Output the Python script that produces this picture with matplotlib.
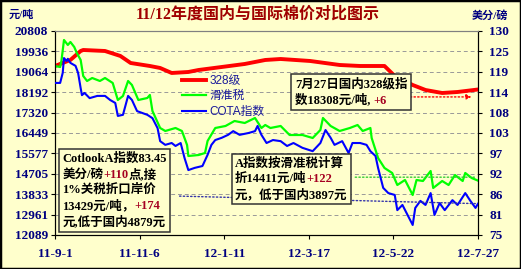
import matplotlib
matplotlib.use("Agg")
import matplotlib.pyplot as plt
import numpy as np
import pandas as pd
from matplotlib.patches import Rectangle
from matplotlib.offsetbox import TextArea, HPacker, VPacker, AnnotationBbox

# days counted from 2011-09-01
start = pd.Timestamp("2011-09-01")

red_days = [0, 12, 20, 22, 39, 51, 59, 74, 82, 91, 104, 112, 130, 148, 164, 176, 199,
            222, 238, 257, 265, 279, 289, 302, 314, 330]
red_vals = [19312, 19569, 19953, 19996, 19953, 19740, 19440, 19312, 19227, 19013, 19056,
            19141, 19269, 19398, 19569, 19611, 19526, 19355, 19312, 19312, 18885, 18500,
            18286, 18158, 18201, 18308]

green_days = [0, 4, 5, 7, 10, 12, 15, 17, 20, 22, 25, 29, 35, 39, 45, 49, 53, 57, 60, 65,
              72, 74, 76, 82, 86, 94, 99, 103, 104, 112, 117, 119, 125, 133, 140, 148, 156,
              161, 164, 168, 176, 183, 193, 201, 207, 209, 215, 222, 230, 236, 240, 246, 247,
              252, 257, 263, 267, 273, 279, 282, 287, 293, 295, 302, 307, 312, 318, 320, 325, 330]
green_vals = [19312, 19269, 19526, 20423, 20210, 20338, 20124, 19868, 19569, 18885, 18671,
              18799, 18671, 18799, 18586, 17859, 18030, 18671, 18500, 17859, 17944, 18073,
              17389, 16662, 16534, 16662, 16534, 15936, 15465, 15508, 15594, 16107, 16662,
              16748, 16961, 16876, 17090, 16662, 16790, 16662, 16748, 16363, 16363, 16235,
              16577, 17090, 16748, 16534, 16662, 16790, 16534, 16662, 16235, 15380, 14953,
              14739, 14226, 14440, 13799, 14440, 14397, 14824, 14098, 14397, 14226, 14653,
              14397, 14739, 14525, 14411]

blue_days = [0, 4, 6, 7, 9, 10, 12, 16, 18, 20, 21, 23, 27, 33, 39, 43, 47, 49, 53, 57,
             60, 64, 68, 72, 76, 80, 82, 86, 91, 94, 98, 101, 104, 109, 115, 119, 122, 125,
             130, 135, 139, 144, 151, 156, 158, 161, 165, 170, 176, 181, 186, 193, 201, 207,
             211, 215, 218, 224, 229, 232, 238, 243, 246, 250, 252, 256, 260, 265, 267, 271,
             275, 279, 281, 285, 289, 293, 296, 300, 304, 310, 314, 320, 324, 328, 330]
blue_vals = [116.0, 116.0, 118.7, 122.7, 121.9, 122.5, 121.4, 120.6, 118.7, 114.6, 112.7,
             113.3, 111.9, 112.5, 112.5, 111.4, 110.6, 107.1, 107.4, 112.5, 111.4, 108.4,
             107.9, 107.4, 106.5, 103.8, 100.3, 99.3, 99.8, 99.0, 99.8, 95.8, 92.5, 93.1,
             93.6, 96.6, 99.3, 100.6, 101.2, 102.0, 103.0, 102.0, 102.5, 103.0, 104.4, 102.0,
             99.8, 100.6, 100.3, 99.0, 99.8, 98.5, 97.6, 99.8, 103.3, 101.2, 99.3, 100.3,
             97.1, 99.8, 99.8, 99.3, 97.6, 96.3, 93.1, 87.7, 86.3, 85.8, 81.7, 83.1, 80.4,
             77.7, 82.3, 84.2, 83.1, 86.3, 80.4, 83.6, 81.7, 84.4, 83.1, 86.3, 84.2, 82.3, 83.45]

series_names = ["328级", "滑准税", "COTA指数"]
tick_dates = ["2011-09-01", "2011-11-06", "2012-01-11", "2012-03-17", "2012-05-22", "2012-07-27"]
tick_labels = ["11-9-1", "11-11-6", "12-1-11", "12-3-17", "12-5-22", "12-7-27"]
left_labels = [12089, 12961, 13833, 14705, 15577, 16449, 17320, 18192, 19064, 19936, 20808]
right_labels = [75, 81, 86, 92, 97, 103, 108, 114, 119, 125, 130]

title = "11/12年度国内与国际棉价对比图示"
box1_lines = [[("CotlookA指数83.45", "k")],
              [("美分/磅", "k"), ("+110", "dr"), ("点,接", "k")],
              [("1%关税折口岸价", "k")],
              [("13429元/吨，", "k"), ("+174", "dr")],
              [("元,低于国内4879元", "k")]]
box2_lines = [[("A指数按滑准税计算", "k")],
              [("折14411元/吨", "k"), ("+122", "dr")],
              [("元，低于国内3897元", "k")]]
box3_lines = [[("7月27日国内328级指", "k")],
              [("数18308元/吨, ", "k"), ("+6", "dr")]]

bg = "#FFFFCC"
navy = "#000080"
darkred = "#A50021"
serif = ["Liberation Serif", "Noto Sans CJK SC"]


def to_dates(days):
    return start + pd.to_timedelta(days, unit="D")


fig = plt.figure(figsize=(5.21, 2.69), dpi=100, facecolor=bg)
ax = fig.add_axes([0.1056, 0.1264, 0.812, 0.7584])
ax.set_facecolor(bg)
ax2 = ax.twinx()

l1, = ax.plot(to_dates(red_days), red_vals, color="#FF0000", lw=2.8, zorder=3)
l2, = ax.plot(to_dates(green_days), green_vals, color="#00FF00", lw=1.6, zorder=3)
l3, = ax2.plot(to_dates(blue_days), blue_vals, color="#0000FF", lw=1.5, zorder=3)

ax.set_xlim(pd.Timestamp(tick_dates[0]), pd.Timestamp(tick_dates[-1]))
ax.set_ylim(left_labels[0], left_labels[-1])
ax2.set_ylim(right_labels[0], right_labels[-1])

ax.set_yticks(np.linspace(left_labels[0], left_labels[-1], 11))
ax.set_yticklabels([str(v) for v in left_labels])
ax2.set_yticks(np.linspace(right_labels[0], right_labels[-1], 11))
ax2.set_yticklabels([str(v) for v in right_labels])
ax.set_xticks(pd.to_datetime(tick_dates))
ax.set_xticklabels(tick_labels)

ax.grid(axis="y", color="#999999", ls=(0, (4, 3)), lw=0.7)
tick_font = dict(family="Liberation Serif", weight="bold", size=9.5)
for lab in ax.get_yticklabels() + ax.get_xticklabels() + ax2.get_yticklabels():
    lab.set_fontproperties(matplotlib.font_manager.FontProperties(**tick_font))
    lab.set_color(navy)
ax.tick_params(axis="y", length=3, pad=2, width=0.8)
ax.tick_params(axis="x", length=3, pad=6.5, width=0.8)
ax2.tick_params(axis="y", length=3, pad=5, width=0.8)
for a in (ax, ax2):
    a.spines["top"].set_color("#808080")
    for s in ("left", "right", "bottom"):
        a.spines[s].set_color("black")
        a.spines[s].set_linewidth(0.8)

# dotted leader lines
ax.annotate("", xy=(to_dates([327])[0], 17990), xytext=(to_dates([275])[0], 17990),
            arrowprops=dict(arrowstyle="-|>", ls=":", color="#FF0000", lw=1, mutation_scale=7))
ax.annotate("", xy=(to_dates([330])[0], 14560), xytext=(to_dates([232])[0], 14560),
            arrowprops=dict(arrowstyle="-", ls=":", color="#33CC33", lw=1))
ax2.annotate("", xy=(to_dates([330])[0], 83.45), xytext=(to_dates([95])[0], 85.5),
             arrowprops=dict(arrowstyle="-", ls=":", color="#3333AA", lw=1))


def make_box(lines, xy):
    rows = []
    for parts in lines:
        areas = [TextArea(s, textprops=dict(color=darkred if c == "dr" else "black",
                                             fontsize=9, fontweight="bold", family=serif))
                 for s, c in parts]
        rows.append(HPacker(children=areas, pad=0, sep=0, align="baseline"))
    box = VPacker(children=rows, pad=0, sep=2.4, align="left")
    ab = AnnotationBbox(box, xy, xycoords="axes fraction", box_alignment=(0, 1),
                        frameon=True, pad=0.25, zorder=10,
                        bboxprops=dict(facecolor=bg, edgecolor="#333333", lw=1.1))
    ax2.add_artist(ab)


make_box(box1_lines, (0.017, 0.405))
make_box(box2_lines, (0.4255, 0.382))
make_box(box3_lines, (0.567, 0.770))

ax2.legend([l1, l2, l3], series_names, loc="upper left", bbox_to_anchor=(0.30, 0.785),
           frameon=False, handlelength=2.0, handletextpad=0.3, borderaxespad=0,
           borderpad=0, labelspacing=0.3, labelcolor="#1a1a9a",
           prop=dict(family=["Liberation Sans", "Noto Sans CJK SC"], size=8.5))

fig.text(0.494, 0.944, title, ha="center", va="center", color="#A00000",
         fontsize=11.5, fontweight="bold", family=serif)
fig.text(0.04, 0.944, "元/吨", ha="center", va="center", color=navy,
         fontsize=8, fontweight="bold", family=serif)
fig.text(0.94, 0.944, "美分/磅", ha="center", va="center", color=navy,
         fontsize=8, fontweight="bold", family=serif)

fig.patches.append(Rectangle((0, 0), 1, 1, transform=fig.transFigure, fill=False,
                             ec="black", lw=2.5))

fig.savefig("out.png", dpi=100, facecolor=bg)
